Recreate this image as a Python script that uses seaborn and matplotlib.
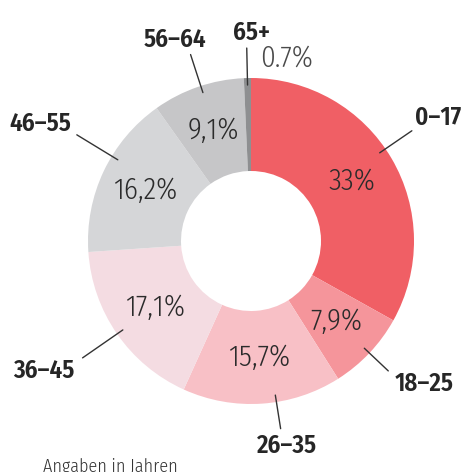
import numpy as np
import seaborn as sns
from matplotlib import pyplot as plt

# data (share of people per age group, in %)
age_groups = ['0–17', '18–25', '26–35', '36–45', '46–55', '56–64', '65+']
shares = [33.0, 7.9, 15.7, 17.1, 16.2, 9.1, 0.7]
share_labels = ['33%', '7,9%', '15,7%', '17,1%', '16,2%', '9,1%', '0.7%']
footnote = 'Angaben in Jahren'

# styling
slice_colors = ['#F05F65', '#F5959B', '#F8C0C6', '#F4DCE2', '#D5D6D8', '#C6C6C8', '#8E8F91']
line_out = [195, 189, 190, 205, 204, 196, 193]
angle_shift = [4, 0, 5, 0, -6, -1, 0]
label_offset = [(3, 6), (6, -20), (6, -24), (-8, -20), (-6, 4), (-16, 8), (5, 8)]
label_ha = ['left', 'left', 'center', 'right', 'right', 'center', 'center']

sns.set_theme(style="white")
plt.rcParams['font.family'] = ['Fira Sans Condensed', 'DejaVu Sans']

fig = plt.figure(figsize=(4.64, 4.72), dpi=100)
ax = fig.add_axes([0, 0, 1, 1])

cx, cy, radius = 251, 231, 163
wedges, _ = ax.pie(shares, colors=sns.color_palette(slice_colors), startangle=90, counterclock=False,
                   center=(cx, cy), radius=radius, wedgeprops=dict(width=93, linewidth=0),
                   frame=True)
ax.set_xlim(0, 464)
ax.set_ylim(0, 472)
ax.set_aspect('equal')
ax.axis('off')

for i, w in enumerate(wedges):
    mid = np.deg2rad((w.theta1 + w.theta2) / 2)
    if shares[i] >= 1:
        # percentage inside the ring
        ax.text(cx + 117 * np.cos(mid), cy + 117 * np.sin(mid), share_labels[i], ha='center', va='center',
                fontsize=21, fontweight=300, color='#2b2b2b')
    else:
        # tiny slice: percentage goes outside
        ax.text(cx + 9, cy + 174, share_labels[i], ha='left', va='baseline',
                fontsize=21, fontweight=300, color='#4a4a4a')
    a = np.deg2rad((w.theta1 + w.theta2) / 2 + angle_shift[i])
    x0, y0 = cx + 156 * np.cos(a), cy + 156 * np.sin(a)
    x1, y1 = cx + line_out[i] * np.cos(a), cy + line_out[i] * np.sin(a)
    ax.plot([x0, x1], [y0, y1], color='#333333', linewidth=1)
    dx, dy = label_offset[i]
    ax.text(x1 + dx, y1 + dy, age_groups[i], ha=label_ha[i], va='baseline', fontsize=18,
            fontweight=600, color='#262626')

ax.text(43, 0, footnote, ha='left', va='baseline', fontsize=13, fontweight=300, color='#333333')

plt.savefig('out.png', dpi=100)
